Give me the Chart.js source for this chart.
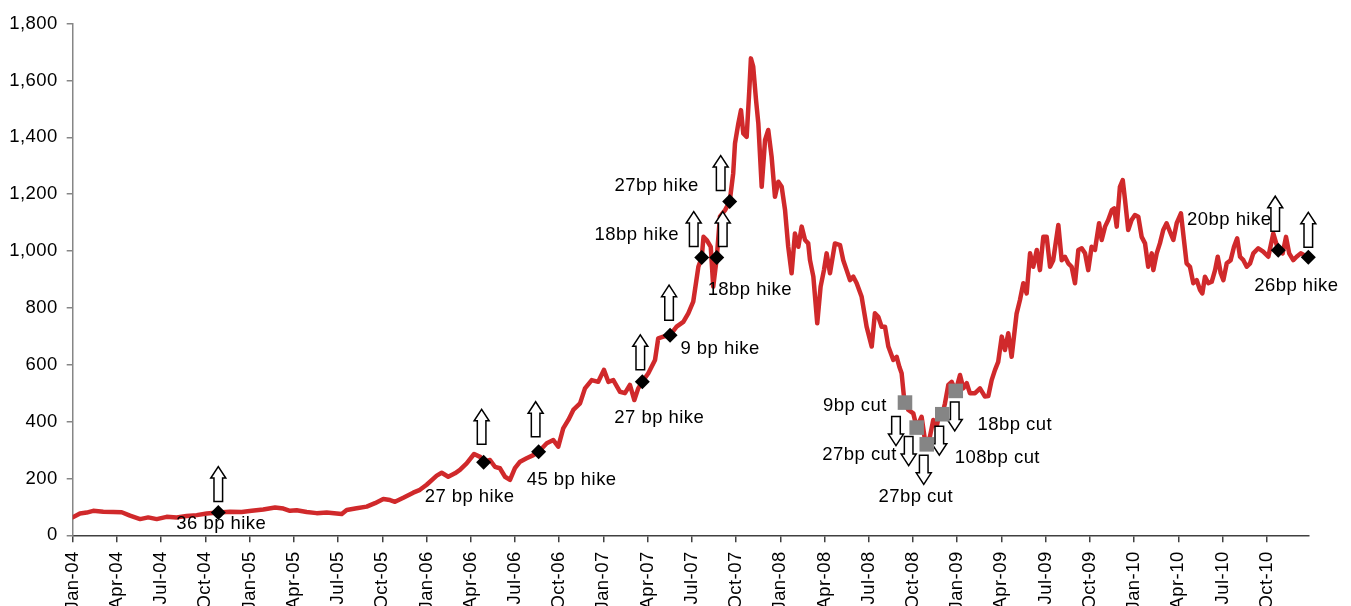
<!doctype html>
<html lang="en">
<head>
<meta charset="UTF-8" />
<title>Index level and policy rate moves, 2004-2010</title>
<style>
  html, body { margin: 0; padding: 0; background: #fff; overflow: hidden; }
  #chart { display: block; }
</style>
</head>
<body>
<canvas id="chart" width="1351" height="606"></canvas>
<script src="https://cdn.jsdelivr.net/npm/chart.js"></script>
<script>
// Index level, dates as decimal years
const dates = [
  2004.000, 2004.041, 2004.079, 2004.116, 2004.173, 2004.230, 2004.277, 2004.324, 2004.381, 2004.427,
  2004.475, 2004.531, 2004.588, 2004.644, 2004.701, 2004.758, 2004.823, 2004.889, 2004.955,
  2005.012, 2005.077, 2005.144, 2005.191, 2005.228, 2005.266, 2005.323, 2005.379, 2005.436, 2005.492,
  2005.521, 2005.549, 2005.605, 2005.662, 2005.709, 2005.756, 2005.794, 2005.822, 2005.869, 2005.925, 2005.963,
  2006.001, 2006.058, 2006.086, 2006.123, 2006.161, 2006.189, 2006.227, 2006.269, 2006.303, 2006.323,
  2006.359, 2006.387, 2006.415, 2006.444, 2006.472, 2006.500, 2006.529, 2006.566, 2006.604, 2006.634,
  2006.680, 2006.717, 2006.745, 2006.773, 2006.802, 2006.830, 2006.868, 2006.896, 2006.934, 2006.971,
  2007.003, 2007.028, 2007.056, 2007.094, 2007.122, 2007.150, 2007.175, 2007.197, 2007.220, 2007.254,
  2007.292, 2007.310, 2007.339, 2007.377, 2007.414, 2007.452, 2007.480, 2007.508, 2007.537, 2007.556,
  2007.566, 2007.584, 2007.607, 2007.621, 2007.641, 2007.659, 2007.688, 2007.714, 2007.734, 2007.744,
  2007.763, 2007.778, 2007.791, 2007.810, 2007.825, 2007.834, 2007.847, 2007.863, 2007.876, 2007.895,
  2007.914, 2007.932, 2007.951, 2007.970, 2007.989,
  2008.008, 2008.027, 2008.045, 2008.064, 2008.083, 2008.102, 2008.121, 2008.140, 2008.158, 2008.168,
  2008.187, 2008.209, 2008.228, 2008.247, 2008.262, 2008.281, 2008.309, 2008.338, 2008.356, 2008.375,
  2008.394, 2008.413, 2008.432, 2008.460, 2008.488, 2008.517, 2008.535, 2008.554, 2008.573, 2008.592,
  2008.611, 2008.639, 2008.658, 2008.673, 2008.686, 2008.699, 2008.705, 2008.724, 2008.752, 2008.771,
  2008.799, 2008.818, 2008.828, 2008.846, 2008.865, 2008.884, 2008.903, 2008.916, 2008.931, 2008.950,
  2008.969, 2008.992,
  2009.016, 2009.035, 2009.054, 2009.072, 2009.101, 2009.129, 2009.157, 2009.176, 2009.195, 2009.214,
  2009.232, 2009.252, 2009.270, 2009.289, 2009.308, 2009.336, 2009.355, 2009.374, 2009.393, 2009.412,
  2009.430, 2009.450, 2009.468, 2009.487, 2009.506, 2009.525, 2009.543, 2009.572, 2009.591, 2009.609,
  2009.628, 2009.647, 2009.666, 2009.685, 2009.704, 2009.723, 2009.741, 2009.760, 2009.779, 2009.802,
  2009.817, 2009.836, 2009.854, 2009.874, 2009.888, 2009.902, 2009.920, 2009.936, 2009.949, 2009.967,
  2009.986,
  2010.005, 2010.024, 2010.043, 2010.062, 2010.080, 2010.100, 2010.109, 2010.128, 2010.146, 2010.165,
  2010.184, 2010.203, 2010.222, 2010.241, 2010.265, 2010.282, 2010.297, 2010.316, 2010.335, 2010.354,
  2010.373, 2010.386, 2010.401, 2010.420, 2010.439, 2010.458, 2010.473, 2010.490, 2010.505, 2010.524,
  2010.546, 2010.565, 2010.583, 2010.599, 2010.618, 2010.637, 2010.656, 2010.674, 2010.702, 2010.730,
  2010.759, 2010.787, 2010.815, 2010.840, 2010.859, 2010.877, 2010.900, 2010.919, 2010.942, 2010.985
];
const levels = [
  63, 77, 80, 86, 83, 82, 81, 69, 57, 63,
  57, 65, 63, 68, 71, 77, 80, 83, 82,
  86, 91, 98, 94, 86, 88, 82, 78, 80, 77,
  75, 89, 95, 101, 113, 128, 124, 118, 132, 150, 160,
  178, 210, 220, 206, 218, 230, 253, 286, 276, 257,
  265, 241, 236, 206, 195, 236, 259, 271, 282, 294,
  324, 335, 312, 376, 406, 441, 464, 517, 546, 540,
  582, 540, 546, 505, 500, 529, 476, 517, 540, 570,
  617, 693, 699, 704, 734, 751, 781, 822, 945, 977,
  1050, 1039, 1015, 875, 977, 1121, 1144, 1174, 1274, 1379,
  1449, 1496, 1414, 1402, 1567, 1678, 1649, 1531, 1449, 1226,
  1391, 1426, 1332, 1191, 1244,
  1226, 1144, 1015, 922, 1062, 1015, 1086, 1039, 1027, 968,
  910, 746, 875, 933, 992, 922, 1027, 1021, 968, 933,
  898, 910, 887, 839, 734, 664, 781, 769, 734, 734,
  664, 617, 628, 593, 570, 488, 467, 441, 429, 379,
  417, 335, 320, 347, 406, 382, 441, 426, 464, 529,
  540, 508,
  564, 517, 535, 500, 500, 517, 488, 490, 546, 582,
  610, 699, 652, 711, 628, 780, 828, 887, 851, 992,
  945, 1004, 933, 1050, 1050, 945, 968, 1092, 968, 980,
  957, 945, 887, 1004, 1010, 992, 933, 1015, 1004, 1098,
  1039, 1086, 1109, 1144, 1150, 1086, 1226, 1250, 1180, 1074,
  1109,
  1127, 1121, 1050, 1027, 945, 992, 933, 992, 1027, 1074,
  1098, 1068, 1039, 1098, 1133, 1039, 957, 945, 887, 898,
  863, 851, 910, 887, 892, 933, 980, 922, 898, 957,
  968, 1015, 1045, 980, 968, 945, 957, 992, 1010, 998,
  980, 1062, 1003, 992, 1050, 992, 968, 980, 992, 978
];

// Rate hikes and cuts, placed on the index line
const hikeDates = [2004.823, 2006.323, 2006.634, 2007.220, 2007.377, 2007.556, 2007.641, 2007.714, 2010.815, 2010.985];
const hikeLevels = [80, 257, 294, 540, 704, 977, 977, 1174, 1003, 978];
const hikeLabels = ['36 bp hike', '27 bp hike', '45 bp hike', '27 bp hike', '9 bp hike',
                    '18bp hike', '18bp hike', '27bp hike', '20bp hike', '26bp hike'];
const cutDates = [2008.705, 2008.771, 2008.828, 2008.916, 2008.992];
const cutLevels = [467, 379, 320, 426, 508];
const cutLabels = ['9bp cut', '27bp cut', '27bp cut', '108bp cut', '18bp cut'];

const quarterLabels = [
  'Jan-04', 'Apr-04', 'Jul-04', 'Oct-04', 'Jan-05', 'Apr-05', 'Jul-05', 'Oct-05',
  'Jan-06', 'Apr-06', 'Jul-06', 'Oct-06', 'Jan-07', 'Apr-07', 'Jul-07', 'Oct-07',
  'Jan-08', 'Apr-08', 'Jul-08', 'Oct-08', 'Jan-09', 'Apr-09', 'Jul-09', 'Oct-09',
  'Jan-10', 'Apr-10', 'Jul-10', 'Oct-10'
];

// label / arrow placement around each marker (pixels)
const hikeTextOffset = [[3, 11], [-14, 35], [33, 28], [17, 36], [50, 14], [-65, -23], [33, 32], [-73, -16], [-49, -30], [-12, 29]];
const hikeArrowOffset = [[0, -11], [-2, -18], [-3, -15], [-2, -12], [-1, -15], [-8, -11], [6, -11], [-9, -11], [-3, -19], [0, -10]];
const cutTextOffset = [[-50, 3], [-57, 27], [-11, 53], [55, 44], [59, 34]];
const cutArrowOffset = [[-9, 14], [-8, 9], [-3, 11], [-3, 12], [-1, 11]];

const FONT = '"Liberation Sans", Arial, sans-serif';
const FONT_SIZE = 18.5;
const SPACING = '0.45px';

Chart.defaults.font.family = FONT;
Chart.defaults.font.size = FONT_SIZE;
Chart.defaults.color = '#000';

// hollow block arrow, dir -1 points up, +1 points down
function blockArrow(ctx, cx, yBase, len, dir) {
  const hw = 7.5, sw = 4.3, head = 11.5;
  const tip = yBase + dir * len;
  const neck = tip - dir * head;
  ctx.beginPath();
  ctx.moveTo(cx - sw, yBase);
  ctx.lineTo(cx - sw, neck);
  ctx.lineTo(cx - hw, neck);
  ctx.lineTo(cx, tip);
  ctx.lineTo(cx + hw, neck);
  ctx.lineTo(cx + sw, neck);
  ctx.lineTo(cx + sw, yBase);
  ctx.closePath();
  ctx.fillStyle = '#fff';
  ctx.fill();
  ctx.lineWidth = 1.5;
  ctx.strokeStyle = '#000';
  ctx.stroke();
}

const letterSpacing = {
  id: 'letterSpacing',
  beforeLayout(chart) { chart.ctx.letterSpacing = SPACING; },
  beforeDraw(chart) { chart.ctx.letterSpacing = SPACING; }
};

const rateMoves = {
  id: 'rateMoves',
  afterDatasetDraw(chart, args) {
    if (args.index !== 0) return;
    const { ctx, scales: { x, y } } = chart;
    ctx.save();
    ctx.letterSpacing = SPACING;
    ctx.font = FONT_SIZE + 'px ' + FONT;
    ctx.fillStyle = '#000';
    ctx.textAlign = 'center';
    ctx.textBaseline = 'middle';
    hikeDates.forEach((d, i) => {
      const px = x.getPixelForValue(d), py = y.getPixelForValue(hikeLevels[i]);
      ctx.fillText(hikeLabels[i], px + hikeTextOffset[i][0], py + hikeTextOffset[i][1]);
    });
    cutDates.forEach((d, i) => {
      const px = x.getPixelForValue(d), py = y.getPixelForValue(cutLevels[i]);
      ctx.fillText(cutLabels[i], px + cutTextOffset[i][0], py + cutTextOffset[i][1]);
    });
    hikeDates.forEach((d, i) => {
      const px = x.getPixelForValue(d), py = y.getPixelForValue(hikeLevels[i]);
      blockArrow(ctx, px + hikeArrowOffset[i][0], py + hikeArrowOffset[i][1], 35, -1);
    });
    cutDates.forEach((d, i) => {
      const px = x.getPixelForValue(d), py = y.getPixelForValue(cutLevels[i]);
      blockArrow(ctx, px + cutArrowOffset[i][0], py + cutArrowOffset[i][1], 29, 1);
    });
    ctx.restore();
  }
};

new Chart(document.getElementById('chart'), {
  type: 'line',
  data: {
    datasets: [
      {
        data: dates.map((d, i) => ({ x: d, y: levels[i] })),
        borderColor: '#d0292b',
        borderWidth: 4.5,
        pointRadius: 0,
        tension: 0,
        borderJoinStyle: 'round',
        borderCapStyle: 'round',
        order: 2
      },
      {
        type: 'scatter',
        data: hikeDates.map((d, i) => ({ x: d, y: hikeLevels[i] })),
        pointStyle: 'rectRot',
        pointRadius: 7.5,
        backgroundColor: '#000',
        borderWidth: 0,
        clip: false,
        order: 0
      },
      {
        type: 'scatter',
        data: cutDates.map((d, i) => ({ x: d, y: cutLevels[i] })),
        pointStyle: 'rect',
        pointRadius: 10.3,
        backgroundColor: '#858585',
        borderWidth: 0,
        clip: false,
        order: 0
      }
    ]
  },
  options: {
    responsive: false,
    animation: false,
    devicePixelRatio: 1,
    layout: { padding: { left: 0, right: 42.7, top: 23.7, bottom: 0 } },
    plugins: { legend: { display: false }, tooltip: { enabled: false } },
    scales: {
      x: {
        type: 'linear',
        min: 2004,
        max: 2010.985,
        afterBuildTicks: (scale) => {
          scale.ticks = quarterLabels.map((_, i) => ({ value: 2004 + i / 4 }));
        },
        afterFit: (scale) => { scale.height = 70.7; },
        grid: { drawOnChartArea: false, tickLength: 7, color: '#404040', lineWidth: 1.5 },
        border: { color: '#404040', width: 1.5 },
        ticks: {
          autoSkip: false,
          maxRotation: 90,
          minRotation: 90,
          padding: 9,
          color: '#000',
          callback: (v, i) => quarterLabels[i]
        }
      },
      y: {
        min: 0,
        max: 1800,
        afterFit: (scale) => { scale.width = 72.7; },
        grid: { drawOnChartArea: false, tickLength: 6, color: '#868686', lineWidth: 1.5 },
        border: { color: '#868686', width: 1.5 },
        ticks: {
          stepSize: 200,
          padding: 9,
          color: '#000',
          callback: (v) => v.toLocaleString('en-US')
        }
      }
    }
  },
  plugins: [letterSpacing, rateMoves]
});
</script>
</body>
</html>
